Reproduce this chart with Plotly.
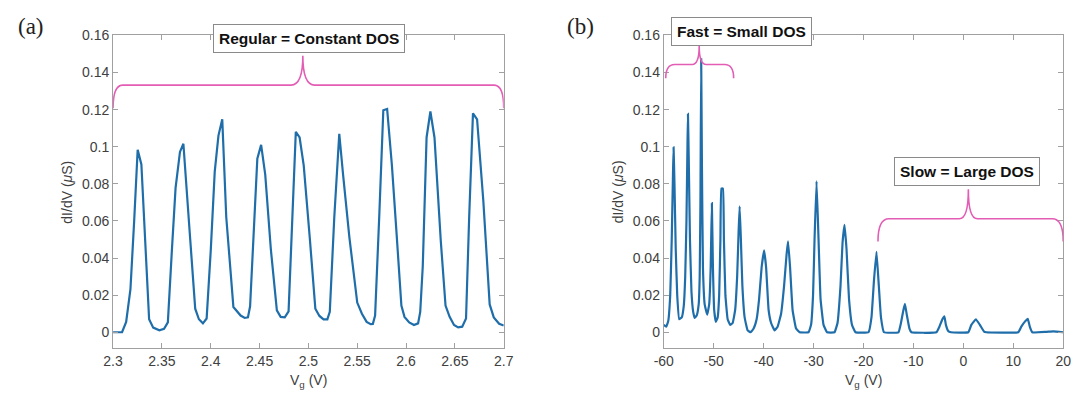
import plotly.graph_objects as go

# ---------------- data ----------------
# panel (a): regular Coulomb oscillations
left_vg = [2.300, 2.3092, 2.3134, 2.3178, 2.3216, 2.3252, 2.3290, 2.3331, 2.3369, 2.3411,
           2.3474, 2.3522, 2.3561, 2.3602, 2.3640, 2.3685, 2.3720, 2.3790, 2.3841, 2.3879,
           2.3920, 2.3958, 2.4000, 2.4041, 2.4079, 2.4118, 2.4159, 2.4232, 2.4274, 2.4306,
           2.4348, 2.4381, 2.4403, 2.4445, 2.4477, 2.4516, 2.4558, 2.4615, 2.4677, 2.4716,
           2.4758, 2.4797, 2.4839, 2.4871, 2.4910, 2.4952, 2.5016, 2.5071, 2.5113, 2.5155,
           2.5194, 2.5219, 2.5265, 2.5316, 2.5355, 2.5419, 2.5500, 2.5548, 2.5596, 2.5638,
           2.5660, 2.5683, 2.5725, 2.5767, 2.5806, 2.5855, 2.5903, 2.5952, 2.5984, 2.6032,
           2.6081, 2.6123, 2.6145, 2.6171, 2.6210, 2.6249, 2.6291, 2.6355, 2.6404, 2.6446,
           2.6491, 2.6533, 2.6575, 2.6614, 2.6646, 2.6685, 2.6727, 2.6791, 2.6856, 2.6898,
           2.6953, 2.7000]
left_g = [0.0000, 0.0000, 0.0056, 0.0232, 0.0600, 0.0984, 0.0905, 0.0440, 0.0070, 0.0025,
          0.0011, 0.0018, 0.0053, 0.0440, 0.0778, 0.0972, 0.1016, 0.0500, 0.0127, 0.0070,
          0.0048, 0.0074, 0.0440, 0.0866, 0.1060, 0.1148, 0.0620, 0.0136, 0.0110, 0.0090,
          0.0077, 0.0080, 0.0140, 0.0620, 0.0936, 0.1010, 0.0850, 0.0450, 0.0118, 0.0083,
          0.0081, 0.0113, 0.0620, 0.1080, 0.1050, 0.0900, 0.0496, 0.0127, 0.0088, 0.0069,
          0.0069, 0.0110, 0.0620, 0.1070, 0.0850, 0.0514, 0.0160, 0.0100, 0.0056, 0.0044,
          0.0045, 0.0090, 0.0620, 0.1197, 0.1204, 0.0900, 0.0530, 0.0144, 0.0083, 0.0053,
          0.0039, 0.0048, 0.0110, 0.0356, 0.1050, 0.1190, 0.1050, 0.0496, 0.0144, 0.0083,
          0.0039, 0.0026, 0.0030, 0.0074, 0.0620, 0.1180, 0.1148, 0.0708, 0.0150, 0.0080,
          0.0046, 0.0036]

# panel (b): wide gate sweep
right_vg = [-60.0, -59.5, -59.1, -58.7, -58.4, -58.15, -58.03, -57.85, -57.6, -57.3,
            -56.9, -56.4, -56.0, -55.7, -55.45, -55.25, -55.15, -55.0, -54.75, -54.45,
            -54.1, -53.8, -53.4, -53.0, -52.8, -52.65, -52.5, -52.35, -52.15, -51.8,
            -51.3, -50.9, -50.6, -50.36, -50.15, -49.9, -49.57, -49.2, -48.9, -48.65,
            -48.45, -48.15, -47.95, -47.65, -47.2, -46.7, -46.2, -45.7, -45.3, -45.0,
            -44.8, -44.55, -44.25, -43.8, -43.2, -42.6, -42.0, -41.4, -40.9, -40.4,
            -39.9, -39.5, -39.0, -38.5, -37.8, -37.2, -36.5, -35.9, -35.4, -35.1,
            -34.7, -34.2, -33.5, -32.8, -31.0, -30.5, -30.1, -29.8, -29.4, -29.0,
            -28.6, -28.0, -27.3, -25.8, -25.2, -24.6, -24.2, -23.8, -23.4, -22.9,
            -22.3, -21.6, -19.0, -18.4, -17.9, -17.4, -17.0, -16.5, -15.9, -13.0,
            -12.5, -12.0, -11.7, -11.3, -10.8, -10.4, -5.4, -4.8, -4.2, -3.8,
            -3.5, -3.0, -2.5, 1.0, 1.6, 2.5, 3.3, 4.1, 4.6, 11.0,
            11.6, 12.4, 12.9, 13.3, 13.8, 16.5, 18.0, 20.0]
right_g = [0.0040, 0.0030, 0.0060, 0.0200, 0.0500, 0.0850, 0.0997, 0.0800, 0.0450, 0.0200,
           0.0070, 0.0080, 0.0140, 0.0300, 0.0600, 0.1000, 0.1177, 0.0950, 0.0500, 0.0220,
           0.0110, 0.0077, 0.0090, 0.0150, 0.0300, 0.0700, 0.1471, 0.0900, 0.0350, 0.0150,
           0.0095, 0.0150, 0.0350, 0.0696, 0.0350, 0.0120, 0.0056, 0.0080, 0.0200, 0.0500,
           0.0775, 0.0775, 0.0500, 0.0200, 0.0070, 0.0040, 0.0050, 0.0120, 0.0300, 0.0550,
           0.0679, 0.0500, 0.0250, 0.0080, 0.0010, 0.0000, 0.0020, 0.0070, 0.0180, 0.0350,
           0.0442, 0.0350, 0.0120, 0.0050, 0.0010, 0.0030, 0.0100, 0.0250, 0.0420, 0.0490,
           0.0350, 0.0120, 0.0020, 0.0000, 0.0000, 0.0040, 0.0200, 0.0500, 0.0815, 0.0500,
           0.0180, 0.0040, 0.0000, 0.0000, 0.0050, 0.0250, 0.0480, 0.0579, 0.0450, 0.0180,
           0.0040, 0.0000, 0.0000, 0.0080, 0.0280, 0.0433, 0.0280, 0.0080, 0.0000, 0.0000,
           0.0050, 0.0120, 0.0153, 0.0090, 0.0020, 0.0000, 0.0000, 0.0030, 0.0070, 0.0086,
           0.0040, 0.0005, 0.0000, 0.0000, 0.0040, 0.0070, 0.0040, 0.0005, 0.0000, 0.0000,
           0.0030, 0.0060, 0.0072, 0.0030, 0.0000, 0.0002, 0.0005, 0.0000]

left_xticks = [2.3, 2.35, 2.4, 2.45, 2.5, 2.55, 2.6, 2.65, 2.7]
left_xlabels = ["2.3", "2.35", "2.4", "2.45", "2.5", "2.55", "2.6", "2.65", "2.7"]
right_xticks = [-60, -50, -40, -30, -20, -10, 0, 10, 20]
right_xlabels = ["-60", "-50", "-40", "-30", "-20", "-10", "0", "10", "20"]
yticks = [0, 0.02, 0.04, 0.06, 0.08, 0.1, 0.12, 0.14, 0.16]
ylabels = ["0", "0.02", "0.04", "0.06", "0.08", "0.1", "0.12", "0.14", "0.16"]

# ---------------- layout helpers ----------------
W, H = 1086, 398
def fx(p):
    return p / W
def fy(p):
    return 1 - p / H

LINE = "#1f6eaa"
PINK = "#e35db5"
AXC = "#a0a0a0"
TXT = "#404040"
FONT = "Liberation Sans, Arial, sans-serif"

fig = go.Figure()
fig.add_trace(go.Scatter(x=left_vg, y=left_g, mode="lines",
                         line=dict(color=LINE, width=2.2), xaxis="x", yaxis="y",
                         showlegend=False, hoverinfo="skip"))
fig.add_trace(go.Scatter(x=right_vg, y=right_g, mode="lines",
                         line=dict(color=LINE, width=2.2, shape="spline", smoothing=0.3),
                         xaxis="x2", yaxis="y2",
                         showlegend=False, hoverinfo="skip"))

common_axis = dict(showline=True, linecolor=AXC, linewidth=1, mirror="ticks",
                   ticks="inside", ticklen=5, tickcolor=AXC, tickwidth=1,
                   showgrid=False, zeroline=False,
                   tickfont=dict(family=FONT, size=14, color=TXT))
ydom = [fy(347), fy(28)]
yr = [-0.0085, 0.16]

fig.update_layout(
    width=W, height=H, margin=dict(l=0, r=0, t=0, b=0),
    paper_bgcolor="white", plot_bgcolor="white",
    xaxis=dict(domain=[fx(105), fx(503)], range=[2.3, 2.7], anchor="y",
               tickvals=left_xticks, ticktext=left_xlabels, **common_axis),
    yaxis=dict(domain=ydom, range=yr, anchor="x",
               tickvals=yticks, ticktext=ylabels, **common_axis),
    xaxis2=dict(domain=[fx(666), fx(1073)], range=[-60, 20], anchor="y2",
                tickvals=right_xticks, ticktext=right_xlabels, **common_axis),
    yaxis2=dict(domain=ydom, range=yr, anchor="x2",
                tickvals=yticks, ticktext=ylabels, **common_axis),
)

def brace(x0, x1, xm, yend, yh, ytop, de, dm, xr, yr_):
    path = (f"M {x0},{yend} Q {x0},{yh} {x0+de},{yh} L {xm-dm},{yh} "
            f"Q {xm},{yh} {xm},{ytop} Q {xm},{yh} {xm+dm},{yh} "
            f"L {x1-de},{yh} Q {x1},{yh} {x1},{yend}")
    fig.add_shape(type="path", path=path, xref=xr, yref=yr_,
                  line=dict(color=PINK, width=1.6))

brace(2.3, 2.7, 2.4943, 0.1208, 0.1332, 0.149, 0.010, 0.012, "x", "y")
brace(-59.6, -46.0, -52.9, 0.1369, 0.1443, 0.1544, 1.8, 1.4, "x2", "y2")
brace(-17.1, 20.0, 1.0, 0.0489, 0.0612, 0.0771, 2.2, 1.8, "x2", "y2")

ann = []
# panel letters
for t, px in [("(a)", 21), ("(b)", 581)]:
    ann.append(dict(text=t, x=fx(px), y=fy(19), xref="paper", yref="paper",
                    showarrow=False, xanchor="center", yanchor="middle",
                    font=dict(family="Liberation Serif, Times New Roman, serif", size=23, color="#222")))
# axis titles
for px in [58, 619]:
    ann.append(dict(text="dI/dV (<i>μ</i>S)", x=fx(px), y=fy(187.5), xref="paper", yref="paper",
                    showarrow=False, textangle=-90, xanchor="center", yanchor="middle",
                    font=dict(family=FONT, size=14, color=TXT)))
for px in [304, 869.5]:
    ann.append(dict(text="V<sub>g</sub> (V)", x=fx(px), y=fy(381), xref="paper", yref="paper",
                    showarrow=False, xanchor="center", yanchor="middle",
                    font=dict(family=FONT, size=14, color=TXT)))
# boxed labels
for t, cx, cy in [("Regular = Constant DOS", 304.5, 31),
                  ("Fast = Small DOS", 745, 23.5),
                  ("Slow = Large DOS", 975, 167)]:
    ann.append(dict(text=f"<b>{t}</b>", x=fx(cx), y=fy(cy), xref="paper", yref="paper",
                    showarrow=False, xanchor="center", yanchor="middle",
                    bgcolor="white", bordercolor="#8a8a8a", borderwidth=1, borderpad=5,
                    font=dict(family=FONT, size=15.5, color="#111")))
fig.update_layout(annotations=ann)

fig.write_html("out.html")
